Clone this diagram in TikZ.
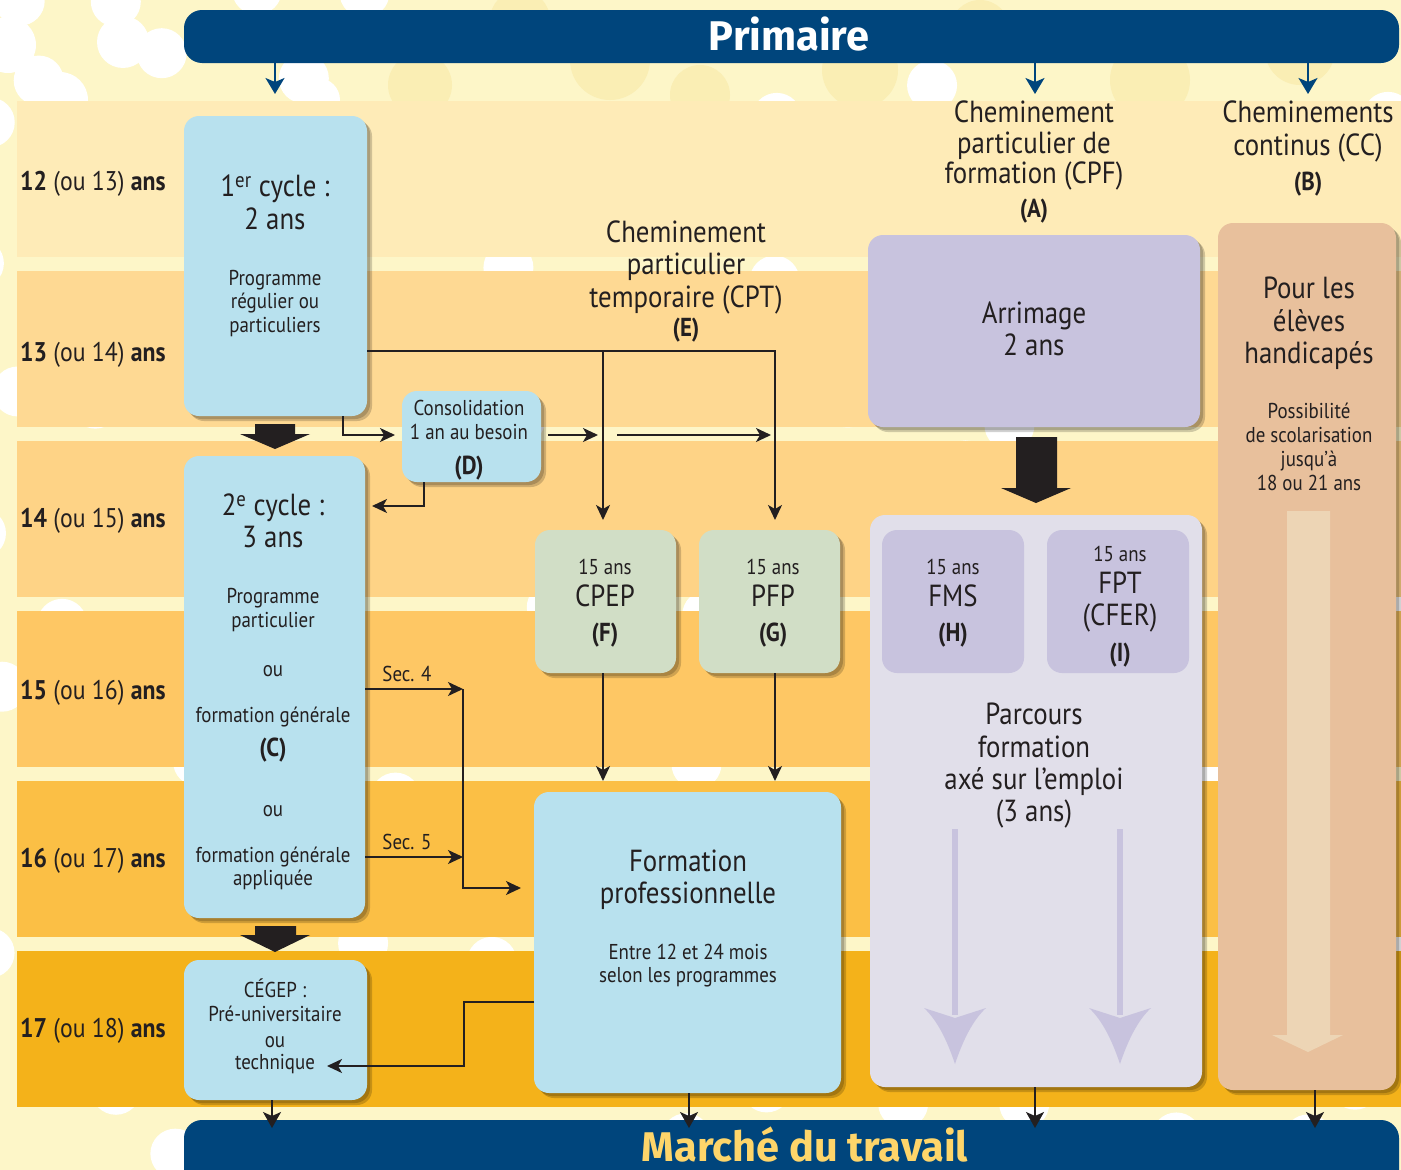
\documentclass[tikz,border=0pt]{standalone}
\usepackage{fontspec}
\setmainfont{PT Sans}[FakeStretch=0.88]
\newfontfamily\titlefont{Fira Sans}
\usetikzlibrary{arrows.meta,shadows,fit,calc}
\definecolor{bgc}{HTML}{FDF6C8}
\definecolor{blob}{HTML}{FAEEB4}
\definecolor{bandA}{HTML}{FEEBB7}
\definecolor{bandB}{HTML}{FED993}
\definecolor{bandC}{HTML}{FED386}
\definecolor{bandD}{HTML}{FEC764}
\definecolor{bandE}{HTML}{FBBF45}
\definecolor{bandF}{HTML}{F4B21A}
\definecolor{navy}{HTML}{00457C}
\definecolor{ink}{HTML}{231F20}
\definecolor{sky}{HTML}{B8E1EE}
\definecolor{sage}{HTML}{D1DEC6}
\definecolor{lav}{HTML}{C8C3DE}
\definecolor{palelav}{HTML}{E1DFEA}
\definecolor{tan}{HTML}{E8C09C}
\definecolor{paletan}{HTML}{EDD5B5}
\definecolor{gold}{HTML}{FED56A}
\tikzset{
  box/.style={rounded corners=15pt, inner sep=0pt, draw=none,
    drop shadow={shadow xshift=5pt, shadow yshift=-5pt, opacity=.18, fill=black},
    drop shadow={shadow xshift=3pt, shadow yshift=-3pt, opacity=.18, fill=black}},
  txt/.style={inner sep=0pt, text=ink, text depth=0pt},
  sA/.style={txt, anchor=west, font=\fontsize{27}{31}\selectfont, text height=19pt},
  sL/.style={txt, font=\fontsize{30.5}{34}\selectfont, text height=21pt},
  sM/.style={txt, font=\fontsize{21.5}{25}\selectfont, text height=15pt},
  sS/.style={txt, font=\fontsize{21.5}{25}\selectfont, text height=15pt},
  sB/.style={txt, font=\fontsize{26}{30}\selectfont\bfseries, text height=18pt},
  sT/.style={inner sep=0pt, font=\fontsize{41.5}{45}\titlefont\bfseries, text height=29pt, text depth=0pt},
  arr/.style={draw=ink, line width=1.8pt, -{Stealth[length=15pt,width=14pt,inset=4pt]}},
  barr/.style={draw=navy, line width=1.8pt, -{Stealth[length=16pt,width=19pt,inset=4pt]}},
  darr/.style={draw=ink, line width=1.8pt, -{Stealth[length=16pt,width=18pt,inset=4pt]}}
}
\begin{document}
\begin{tikzpicture}[x=1pt,y=-1pt]
\clip (0,0) rectangle (1401,1170);
\fill[bgc] (0,0) rectangle (1401,1170);
% pale blobs in the upper margin
\foreach \bx/\by/\br in {610/60/40, 700/95/30, 860/70/38, 980/30/30, 1150/80/40, 1300/50/35, 520/20/30, 420/85/32}{
  \fill[blob] (\bx,\by) circle[radius=\br pt];
}
% polka dots
\pgfmathsetseed{11}
\foreach \r in {0,...,17}{
  \foreach \c in {0,...,11}{
    \pgfmathsetmacro{\dx}{\c*125+mod(\r,2)*62+rand*30}
    \pgfmathsetmacro{\dy}{\r*68+rand*20}
    \pgfmathsetmacro{\keep}{(rnd<0.6)*(or(\dy>80,\dx<430))}
    \ifdim\keep pt>0.5pt
      \fill[white] (\dx,\dy) circle[radius=25pt];
    \fi
  }
}
\fill[white] (8,45) circle[radius=28pt];
\fill[white] (123,42) circle[radius=26pt];
\fill[white] (60,100) circle[radius=28pt];
\fill[white] (318,100) circle[radius=22pt];
% age bands
\fill[bandA] (17,101) rectangle (1401,257);
\fill[bandB] (17,271) rectangle (1401,427);
\fill[bandC] (17,441) rectangle (1401,597);
\fill[bandD] (17,611) rectangle (1401,767);
\fill[bandE] (17,781) rectangle (1401,937);
\fill[bandF] (17,951) rectangle (1401,1107);

% header / footer bars
\node[fill=navy, rounded corners=18pt, inner sep=0pt, fit={(184,10)(1399,63)}] (prim) {};
\node[fill=navy, rounded corners=18pt, inner sep=0pt, fit={(184,1120)(1399,1200)}] (marche) {};
\node[sT, text=white] (primT) at (789,36) {Primaire};
\node[sT, text=gold] (marcheT) at (805,1147) {Marché du travail};

% boxes
\node[box, fill=sky, fit={(184,116)(367,416)}] (c1) {};
\node[box, fill=sky, fit={(184,456)(365,918)}] (c2) {};
\node[box, fill=sky, fit={(184,960)(367,1100)}] (cegep) {};
\node[box, fill=sky, fit={(402,391)(541,482)}] (D) {};
\node[box, fill=sage, fit={(535,530)(676,673)}] (F) {};
\node[box, fill=sage, fit={(699,530)(840,673)}] (G) {};
\node[box, fill=sky, fit={(534,792)(841,1093)}] (FP) {};
\node[box, fill=lav, fit={(868,235)(1200,427)}] (A) {};
\node[box, fill=palelav, fit={(870,515)(1202,1087)}] (parc) {};
\node[fill=lav, rounded corners=15pt, inner sep=0pt, fit={(882,530)(1024,673)}] (H) {};
\node[fill=lav, rounded corners=15pt, inner sep=0pt, fit={(1047,530)(1189,673)}] (I) {};
\node[box, fill=tan, fit={(1218,223)(1396,1090)}] (hand) {};

% block arrows
\fill[ink] (255,424) -- (295,424) -- (295,434) -- (310,434) -- (275,449) -- (240,434) -- (255,434) -- cycle;
\fill[ink] (255,926) -- (296,926) -- (296,935) -- (310,935) -- (275,952) -- (240,935) -- (255,935) -- cycle;
\fill[ink] (1016,437) -- (1057,437) -- (1057,488) -- (1071,488) -- (1036,503) -- (1001,488) -- (1016,488) -- cycle;
\fill[paletan] (1287,511) -- (1330,511) -- (1330,1035) -- (1343,1035) -- (1308,1052) -- (1272,1035) -- (1287,1035) -- cycle;
\foreach \ax in {955,1120}{
  \fill[lav] (\ax-3,829) rectangle (\ax+3,1015);
  \fill[lav] (\ax,1064) .. controls (\ax-8,1040) and (\ax-18,1020) .. (\ax-31,1008)
     -- (\ax,1018) -- (\ax+31,1008) .. controls (\ax+18,1020) and (\ax+8,1040) .. (\ax,1064) -- cycle;
}

% coordinates for connectors
\coordinate (pa1) at (275,94);
\coordinate (pa2) at (1035,94);
\coordinate (pa3) at (1308,94);
\coordinate (e1) at (367,351);
\coordinate (fIn) at (603,520);
\coordinate (gIn) at (775,520);
\coordinate (dIn) at (395,435);
\coordinate (c1b) at (343,416);
\coordinate (dOut) at (548,435);
\coordinate (dTo) at (598,435);
\coordinate (dOut2) at (617,435);
\coordinate (dTo2) at (771,435);
\coordinate (db) at (424,482);
\coordinate (c2In) at (372,506);
\coordinate (fOut) at (603,673);
\coordinate (gOut) at (775,673);
\coordinate (fpIn1) at (603,781);
\coordinate (fpIn2) at (775,781);
\coordinate (s4) at (463,689);
\coordinate (s5) at (463,857);
\coordinate (fpIn3) at (521,888);
\coordinate (fpOut) at (534,1002);
\coordinate (bend) at (464,1002);
\coordinate (cgIn) at (327,1066);
\coordinate (m1) at (272,1128);
\coordinate (m2) at (689,1128);
\coordinate (m3) at (1035,1128);
\coordinate (m4) at (1315,1128);

% connectors
\draw[barr] (prim.south -| pa1) -- (pa1);
\draw[barr] (prim.south -| pa2) -- (pa2);
\draw[barr] (prim.south -| pa3) -- (pa3);
\draw[arr] (c1.east |- e1) -| (gIn);
\draw[arr] (fIn |- e1) -- (fIn);
\draw[arr] (c1b) |- (dIn);
\draw[arr] (dOut) -- (dTo);
\draw[arr] (dOut2) -- (dTo2);
\draw[arr] (db) |- (c2In);
\draw[arr] (fOut) -- (fpIn1);
\draw[arr] (gOut) -- (fpIn2);
\draw[arr] (c2.east |- s4) -- (s4);
\draw[arr] (c2.east |- s5) -- (s5);
\draw[arr] (s4) |- (fpIn3);
\draw[arr] (fpOut) -- (bend) |- (cgIn);
\draw[darr] (cegep.south -| m1) -- (m1);
\draw[darr] (FP.south -| m2) -- (m2);
\draw[darr] (parc.south -| m3) -- (m3);
\draw[darr] (hand.south -| m4) -- (m4);

% age labels
\node[sA] (a12) at (20,181) {\textbf{12} (ou 13) \textbf{ans}};
\node[sA] (a13) at (20,352) {\textbf{13} (ou 14) \textbf{ans}};
\node[sA] (a14) at (20,518) {\textbf{14} (ou 15) \textbf{ans}};
\node[sA] (a15) at (20,690) {\textbf{15} (ou 16) \textbf{ans}};
\node[sA] (a16) at (20,858) {\textbf{16} (ou 17) \textbf{ans}};
\node[sA] (a17) at (20,1028) {\textbf{17} (ou 18) \textbf{ans}};

% 1er cycle
\node[sL] (t1a) at (275,186) {1\textsuperscript{er} cycle :};
\node[sL] (t1b) at (275,219) {2 ans};
\node[sM] (t1c) at (275,278) {Programme};
\node[sM] (t1d) at (275,301) {régulier ou};
\node[sM] (t1e) at (275,325) {particuliers};
% 2e cycle
\node[sL] (t2a) at (273,505) {2\textsuperscript{e} cycle :};
\node[sL] (t2b) at (273,537) {3 ans};
\node[sM] (t2c) at (273,596) {Programme};
\node[sM] (t2d) at (273,620) {particulier};
\node[sM] (t2e) at (273,669) {ou};
\node[sM] (t2f) at (273,715) {formation générale};
\node[sB] (t2g) at (273,747) {(C)};
\node[sM] (t2h) at (273,809) {ou};
\node[sM] (t2i) at (273,855) {formation générale};
\node[sM] (t2j) at (273,878) {appliquée};
% CEGEP
\node[sM] (t3a) at (275,990) {CÉGEP :};
\node[sM] (t3b) at (275,1014) {Pré-universitaire};
\node[sM] (t3c) at (275,1040) {ou};
\node[sM] (t3d) at (275,1062) {technique};
% D
\node[sM] (tDa) at (469,408) {Consolidation};
\node[sM] (tDb) at (469,432) {1 an au besoin};
\node[sB] (tDc) at (469,465) {(D)};
% CPT
\node[sL] (tEa) at (686,232) {Cheminement};
\node[sL] (tEb) at (686,264) {particulier};
\node[sL] (tEc) at (686,297) {temporaire (CPT)};
\node[sB] (tEd) at (686,327) {(E)};
% F, G
\node[sS] (tFa) at (605,567) {15 ans};
\node[sL] (tFb) at (605,596) {CPEP};
\node[sB] (tFc) at (605,632) {(F)};
\node[sS] (tGa) at (773,567) {15 ans};
\node[sL] (tGb) at (773,596) {PFP};
\node[sB] (tGc) at (773,632) {(G)};
% FP
\node[sL] (tPa) at (688,861) {Formation};
\node[sL] (tPb) at (688,893) {professionnelle};
\node[sM] (tPc) at (688,952) {Entre 12 et 24 mois};
\node[sM] (tPd) at (688,975) {selon les programmes};
\node[sM] (sec4) at (407,674) {Sec. 4};
\node[sM] (sec5) at (407,842) {Sec. 5};
% CPF
\node[sL] (tAa) at (1034,112) {Cheminement};
\node[sL] (tAb) at (1034,143) {particulier de};
\node[sL] (tAc) at (1034,173) {formation (CPF)};
\node[sB] (tAd) at (1034,208) {(A)};
\node[sL] (tAe) at (1034,313) {Arrimage};
\node[sL] (tAf) at (1034,345) {2 ans};
% H, I
\node[sS] (tHa) at (953,567) {15 ans};
\node[sL] (tHb) at (953,596) {FMS};
\node[sB] (tHc) at (953,632) {(H)};
\node[sS] (tIa) at (1120,554) {15 ans};
\node[sL] (tIb) at (1120,583) {FPT};
\node[sL] (tIc) at (1120,615) {(CFER)};
\node[sB] (tId) at (1120,652) {(I)};
% Parcours
\node[sL] (tQa) at (1034,714) {Parcours};
\node[sL] (tQb) at (1034,747) {formation};
\node[sL] (tQc) at (1034,779) {axé sur l’emploi};
\node[sL] (tQd) at (1034,811) {(3 ans)};
% CC
\node[sL] (tBa) at (1308,112) {Cheminements};
\node[sL] (tBb) at (1308,145) {continus (CC)};
\node[sB] (tBc) at (1308,181) {(B)};
\node[sL] (tBd) at (1309,288) {Pour les};
\node[sL] (tBe) at (1309,321) {élèves};
\node[sL] (tBf) at (1309,353) {handicapés};
\node[sM] (tBg) at (1309,411) {Possibilité};
\node[sM] (tBh) at (1309,435) {de scolarisation};
\node[sM] (tBi) at (1309,459) {jusqu’à};
\node[sM] (tBj) at (1309,483) {18 ou 21 ans};
\end{tikzpicture}
\end{document}
